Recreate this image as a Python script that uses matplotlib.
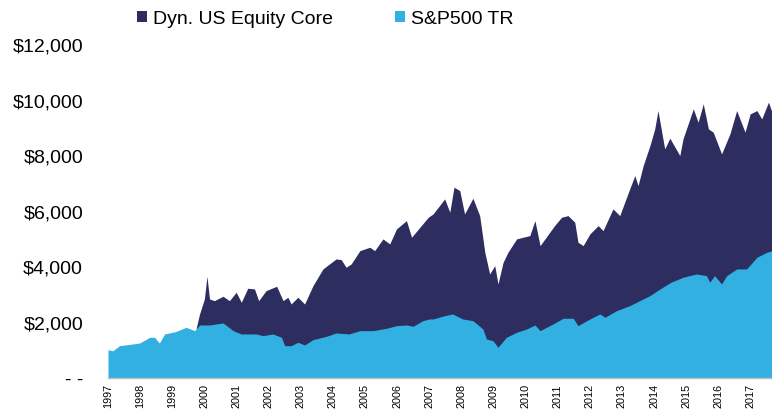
import numpy as np
import matplotlib
matplotlib.use('Agg')
import matplotlib.pyplot as plt
from matplotlib.patches import Patch

plt.rcParams['font.family'] = ['Liberation Sans', 'DejaVu Sans']

# Dados (ano decimal, valor em $)
sp_t = [1997.00, 1997.15, 1997.36, 1997.77, 1997.98, 1998.30, 1998.45, 1998.60, 1998.76,
        1999.10, 1999.43, 1999.70, 1999.85, 2000.16, 2000.58, 2000.90, 2001.15, 2001.62,
        2001.82, 2002.13, 2002.40, 2002.50, 2002.70, 2002.91, 2003.12, 2003.38, 2003.80,
        2004.10, 2004.50, 2004.84, 2005.25, 2005.67, 2005.98, 2006.29, 2006.50, 2006.80,
        2007.00, 2007.12, 2007.48, 2007.73, 2008.04, 2008.36, 2008.67, 2008.78, 2008.98,
        2009.14, 2009.40, 2009.72, 2010.03, 2010.29, 2010.45, 2010.71, 2010.85, 2011.17,
        2011.48, 2011.63, 2012.00, 2012.31, 2012.47, 2012.83, 2013.24, 2013.55, 2013.87,
        2014.15, 2014.52, 2014.90, 2015.32, 2015.63, 2015.73, 2015.88, 2016.10, 2016.26,
        2016.57, 2016.88, 2017.20, 2017.51, 2017.67]
sp_v = [1000, 960, 1145, 1205, 1240, 1447, 1447, 1240, 1566,
        1650, 1805, 1685, 1890, 1890, 1962, 1685, 1566, 1566,
        1505, 1566, 1447, 1145, 1145, 1267, 1170, 1361, 1483,
        1602, 1566, 1685, 1685, 1771, 1865, 1890, 1843, 2045,
        2106, 2106, 2225, 2286, 2106, 2045, 1746, 1386, 1325,
        1087, 1447, 1627, 1746, 1890, 1685, 1843, 1926, 2131,
        2131, 1865, 2106, 2286, 2167, 2405, 2585, 2765, 2945,
        3161, 3427, 3607, 3726, 3665, 3427, 3665, 3366, 3665,
        3906, 3906, 4327, 4506, 4565]

dyn_t = [1999.75, 1999.85, 2000.00, 2000.08, 2000.16, 2000.31, 2000.58, 2000.78, 2000.99,
         2001.15, 2001.35, 2001.56, 2001.69, 2001.92, 2002.25, 2002.45, 2002.60, 2002.70,
         2002.91, 2003.12, 2003.38, 2003.69, 2004.10, 2004.26, 2004.41, 2004.57, 2004.84,
         2005.15, 2005.30, 2005.56, 2005.77, 2005.98, 2006.29, 2006.45, 2006.71, 2006.97,
         2007.12, 2007.48, 2007.64, 2007.77, 2007.95, 2008.10, 2008.36, 2008.57, 2008.73,
         2008.88, 2009.04, 2009.14, 2009.30, 2009.45, 2009.72, 2009.92, 2010.13, 2010.29,
         2010.45, 2010.64, 2010.90, 2011.12, 2011.32, 2011.53, 2011.63, 2011.79, 2012.00,
         2012.26, 2012.41, 2012.72, 2012.93, 2013.24, 2013.40, 2013.50, 2013.66, 2013.87,
         2014.02, 2014.12, 2014.33, 2014.49, 2014.65, 2014.80, 2014.90, 2015.22, 2015.37,
         2015.53, 2015.69, 2015.84, 2016.10, 2016.36, 2016.57, 2016.83, 2016.99, 2017.20,
         2017.35, 2017.56, 2017.67]
dyn_v = [1800, 2286, 2826, 3643, 2826, 2765, 2923, 2765, 3067,
         2707, 3211, 3186, 2765, 3125, 3283, 2765, 2887, 2646,
         2887, 2646, 3305, 3906, 4266, 4241, 3967, 4086, 4565,
         4687, 4565, 4986, 4806, 5346, 5645, 5047, 5407, 5767,
         5886, 6426, 5947, 6847, 6726, 5886, 6451, 5825, 4506,
         3726, 4025, 3366, 4147, 4506, 4986, 5047, 5105, 5645,
         4745, 5047, 5465, 5767, 5825, 5587, 4866, 4745, 5166,
         5465, 5285, 6066, 5825, 6786, 7265, 6905, 7625, 8345,
         8946, 9605, 8226, 8611, 8287, 7985, 8586, 9666, 9187,
         9846, 8946, 8827, 8046, 8766, 9605, 8827, 9486, 9605,
         9306, 9907, 9547]

anos = list(range(1997, 2018))
y_ticks = [0, 2000, 4000, 6000, 8000, 10000, 12000]
y_labels = ['- -', '$2,000', '$4,000', '$6,000', '$8,000', '$10,000', '$12,000']

cor_dyn = '#2e2d5f'
cor_sp = '#33b0e2'

fig = plt.figure(figsize=(7.72, 4.10), dpi=100)
ax = fig.add_axes([108/772, 31.5/410, 664/772, 333.5/410])

ax.fill_between(dyn_t, 0, dyn_v, color=cor_dyn, linewidth=0)
ax.fill_between(sp_t, 0, sp_v, color=cor_sp, linewidth=0)

ax.set_xlim(1997.0, 2017.67)
ax.set_ylim(0, 12000)
ax.set_yticks(y_ticks)
ax.set_yticklabels(y_labels, fontsize=14)
ax.set_xticks(anos)
ax.set_xticklabels([str(a) for a in anos], rotation=90, fontsize=7.8, va='top')
ax.tick_params(axis='y', length=0, pad=18)
ax.tick_params(axis='x', length=0, pad=4)

for s in ['top', 'right', 'left']:
    ax.spines[s].set_visible(False)
ax.spines['bottom'].set_color('#bfbfbf')
ax.spines['bottom'].set_linewidth(1.0)

# legenda
handles = [Patch(facecolor=cor_dyn, edgecolor='none'), Patch(facecolor=cor_sp, edgecolor='none')]
fig.legend(handles, ['Dyn. US Equity Core', 'S&P500 TR'], loc='center left',
           bbox_to_anchor=(137/772, 1 - 20/410), ncol=2, frameon=False, fontsize=14,
           handlelength=0.52, handleheight=0.52, handletextpad=0.3, columnspacing=3.2,
           borderpad=0, borderaxespad=0)

fig.savefig('out.png', dpi=100)
